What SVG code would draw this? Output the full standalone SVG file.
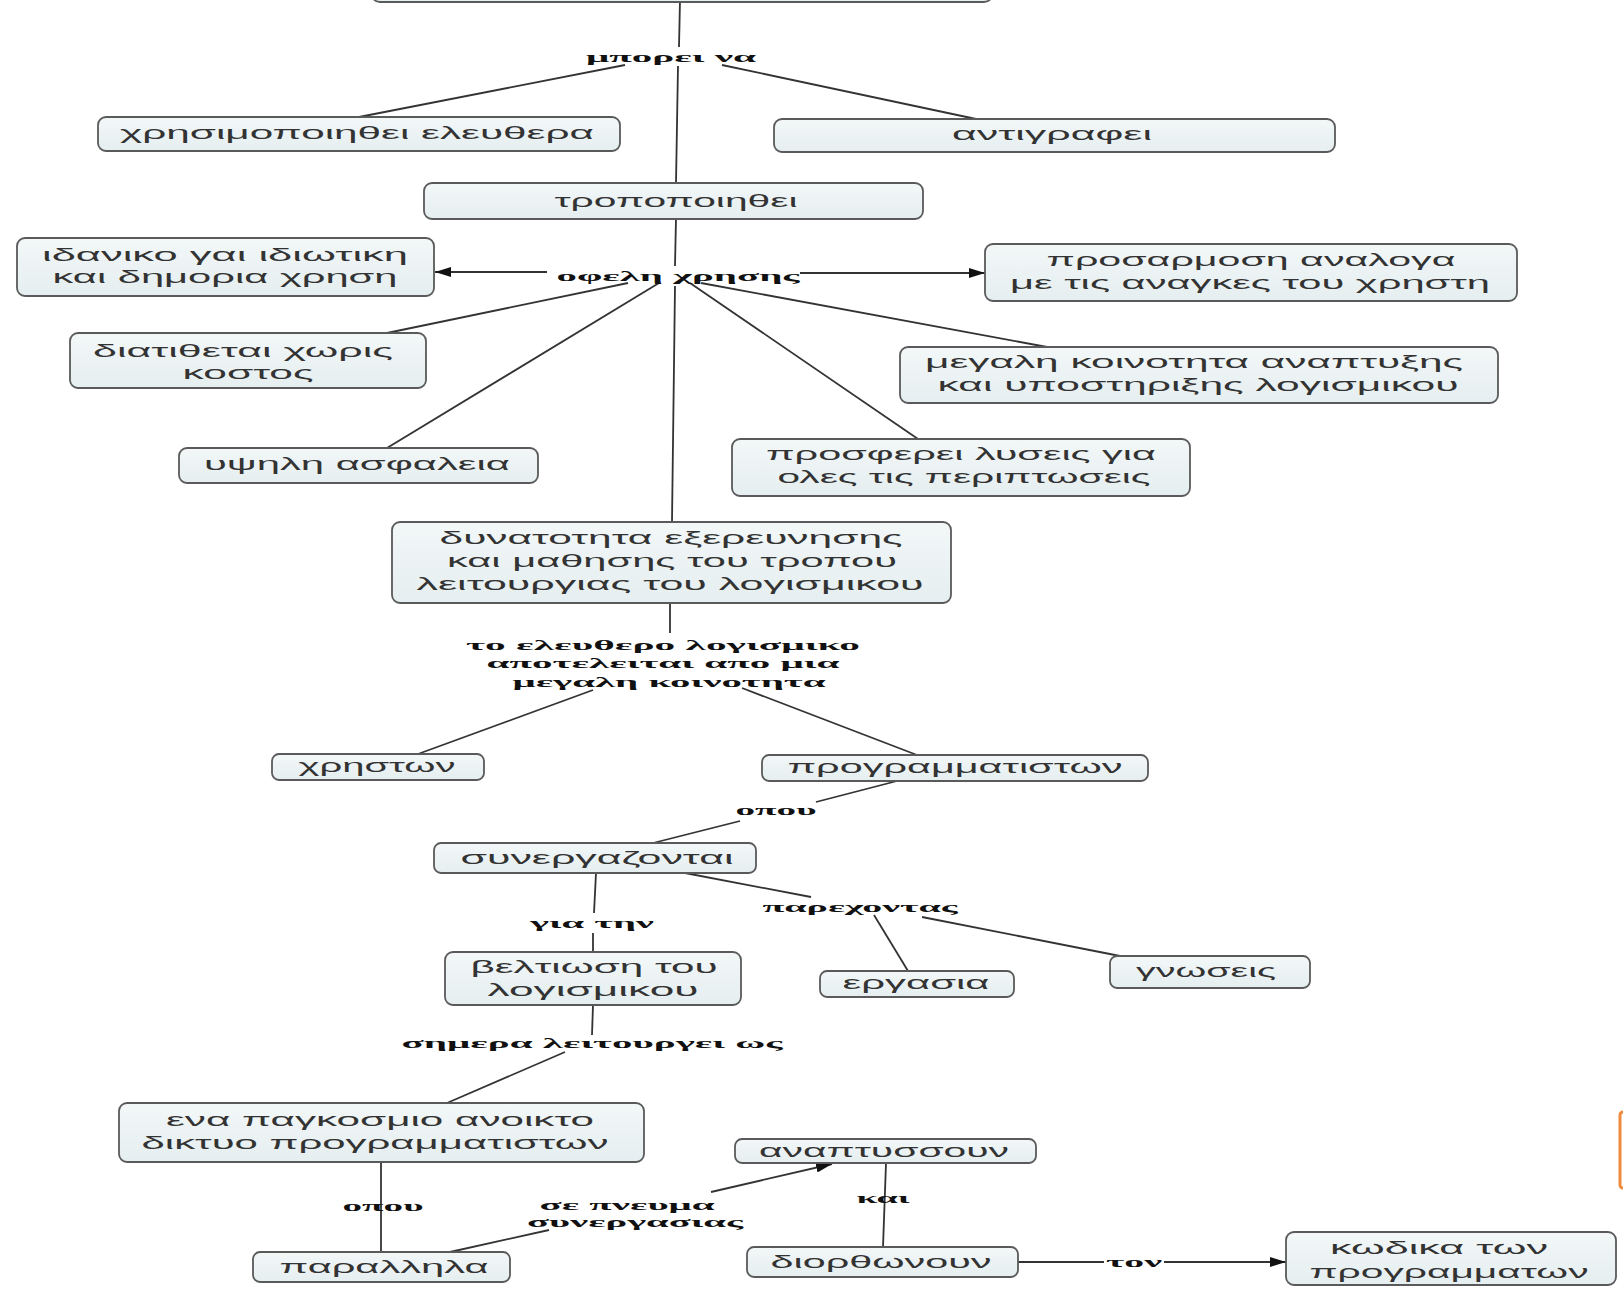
<svg xmlns="http://www.w3.org/2000/svg" width="1623" height="1290" viewBox="0 0 1623 1290">
<defs>
<linearGradient id="g" x1="0" y1="0" x2="0" y2="1">
<stop offset="0" stop-color="#f3f7f8"/>
<stop offset="1" stop-color="#e5eef0"/>
</linearGradient>
<marker id="ah" viewBox="0 0 16 10" refX="16" refY="5" markerWidth="16" markerHeight="10" markerUnits="userSpaceOnUse" orient="auto">
<path d="M0,0 L16,5 L0,10 Z" fill="#111"/>
</marker>
<style>
rect.n{fill:url(#g);stroke:#5a5a5a;stroke-width:1.8}
text.t{font-family:"Liberation Sans","Noto Sans",sans-serif;font-size:18px;fill:#333;text-anchor:middle;dominant-baseline:central}
text.l{font-family:"Liberation Serif","DejaVu Serif",serif;font-size:15px;font-weight:bold;fill:#111;text-anchor:middle;dominant-baseline:central}
#connectors line{stroke:#333;stroke-width:1.8;fill:none}
line.a{marker-end:url(#ah)}
</style>
</defs>
<rect width="1623" height="1290" fill="#ffffff"/>

<g id="connectors">
<line x1="680" y1="0" x2="679" y2="47"/>
<line x1="678" y1="66" x2="676" y2="183"/>
<line x1="676" y1="219" x2="675" y2="266"/>
<line x1="675" y1="286" x2="672" y2="522"/>
<line x1="625" y1="65" x2="359" y2="117"/>
<line x1="722" y1="65" x2="976" y2="119"/>
<line class="a" x1="547" y1="272" x2="435" y2="272"/>
<line class="a" x1="800" y1="273" x2="985" y2="273"/>
<line x1="628" y1="283" x2="387" y2="333"/>
<line x1="659" y1="283" x2="387" y2="448"/>
<line x1="701" y1="283" x2="1047" y2="347"/>
<line x1="690" y1="283" x2="918" y2="439"/>
<line x1="670" y1="603" x2="670" y2="633"/>
<line x1="593" y1="690" x2="418" y2="754"/>
<line x1="742" y1="688" x2="917" y2="755"/>
<line x1="897" y1="781" x2="816" y2="802"/>
<line x1="740" y1="821" x2="653" y2="843"/>
<line x1="596" y1="873" x2="594" y2="913"/>
<line x1="593" y1="933" x2="593" y2="952"/>
<line x1="685" y1="873" x2="811" y2="897"/>
<line x1="874" y1="915" x2="908" y2="971"/>
<line x1="922" y1="917" x2="1120" y2="956"/>
<line x1="593" y1="1005" x2="592" y2="1035"/>
<line x1="565" y1="1052" x2="447" y2="1103"/>
<line x1="381" y1="1162" x2="381" y2="1252"/>
<line x1="450" y1="1252" x2="549" y2="1230"/>
<line class="a" x1="711" y1="1192" x2="832" y2="1164"/>
<line x1="886" y1="1163" x2="883" y2="1247"/>
<line x1="1018" y1="1262" x2="1104" y2="1262"/>
<line class="a" x1="1164" y1="1262" x2="1286" y2="1262"/>
</g>

<g id="link-labels">
<text class="l" x="671" y="57" textLength="170" lengthAdjust="spacingAndGlyphs">μπορει να</text>
<text class="l" x="678" y="276" textLength="243" lengthAdjust="spacingAndGlyphs">οφελη χρησης</text>
<text class="l" x="663" y="645" textLength="394" lengthAdjust="spacingAndGlyphs">το ελευθερο λογισμικο</text>
<text class="l" x="663" y="663" textLength="353" lengthAdjust="spacingAndGlyphs">αποτελειται απο μια</text>
<text class="l" x="669" y="682" textLength="313" lengthAdjust="spacingAndGlyphs">μεγαλη κοινοτητα</text>
<text class="l" x="776" y="810" textLength="81" lengthAdjust="spacingAndGlyphs">οπου</text>
<text class="l" x="592" y="923" textLength="124" lengthAdjust="spacingAndGlyphs">για την</text>
<text class="l" x="860" y="907" textLength="195" lengthAdjust="spacingAndGlyphs">παρεχοντας</text>
<text class="l" x="592" y="1043" textLength="381" lengthAdjust="spacingAndGlyphs">σημερα λειτουργει ως</text>
<text class="l" x="383" y="1206" textLength="81" lengthAdjust="spacingAndGlyphs">οπου</text>
<text class="l" x="627" y="1205" textLength="175" lengthAdjust="spacingAndGlyphs">σε πνευμα</text>
<text class="l" x="635" y="1222" textLength="216" lengthAdjust="spacingAndGlyphs">συνεργασιας</text>
<text class="l" x="883" y="1198" textLength="53" lengthAdjust="spacingAndGlyphs">και</text>
<text class="l" x="1134" y="1262" textLength="56" lengthAdjust="spacingAndGlyphs">τον</text>
</g>

<g id="n-top"><rect class="n" x="371" y="-40" width="622" height="42" rx="9"/></g>
<g id="n-xrisimopoiithei"><rect class="n" x="98" y="117" width="522" height="34" rx="8"/><text class="t" x="357" y="133" textLength="474" lengthAdjust="spacingAndGlyphs">χρησιμοποιηθει ελευθερα</text></g>
<g id="n-antigrafei"><rect class="n" x="774" y="119" width="561" height="33" rx="8"/><text class="t" x="1052" y="134" textLength="200" lengthAdjust="spacingAndGlyphs">αντιγραφει</text></g>
<g id="n-tropopoiithei"><rect class="n" x="424" y="183" width="499" height="36" rx="8"/><text class="t" x="676" y="201" textLength="243" lengthAdjust="spacingAndGlyphs">τροποποιηθει</text></g>
<g id="n-idaniko"><rect class="n" x="17" y="238" width="417" height="58" rx="8"/><text class="t" x="225" y="255" textLength="366" lengthAdjust="spacingAndGlyphs">ιδανικο γαι ιδιωτικη</text><text class="t" x="225" y="277" textLength="345" lengthAdjust="spacingAndGlyphs">και δημορια χρηση</text></g>
<g id="n-prosarmosi"><rect class="n" x="985" y="244" width="532" height="57" rx="8"/><text class="t" x="1251" y="260" textLength="409" lengthAdjust="spacingAndGlyphs">προσαρμοση αναλογα</text><text class="t" x="1250" y="283" textLength="480" lengthAdjust="spacingAndGlyphs">με τις αναγκες του χρηστη</text></g>
<g id="n-diatithetai"><rect class="n" x="70" y="333" width="356" height="55" rx="8"/><text class="t" x="243" y="351" textLength="300" lengthAdjust="spacingAndGlyphs">διατιθεται χωρις</text><text class="t" x="248" y="373" textLength="131" lengthAdjust="spacingAndGlyphs">κοστος</text></g>
<g id="n-megali"><rect class="n" x="900" y="347" width="598" height="56" rx="8"/><text class="t" x="1194" y="362" textLength="538" lengthAdjust="spacingAndGlyphs">μεγαλη κοινοτητα αναπτυξης</text><text class="t" x="1198" y="385" textLength="521" lengthAdjust="spacingAndGlyphs">και υποστηριξης λογισμικου</text></g>
<g id="n-ypsili"><rect class="n" x="179" y="448" width="359" height="35" rx="8"/><text class="t" x="357" y="464" textLength="306" lengthAdjust="spacingAndGlyphs">υψηλη ασφαλεια</text></g>
<g id="n-prosferei"><rect class="n" x="732" y="439" width="458" height="57" rx="8"/><text class="t" x="961" y="454" textLength="390" lengthAdjust="spacingAndGlyphs">προσφερει λυσεις για</text><text class="t" x="964" y="477" textLength="373" lengthAdjust="spacingAndGlyphs">ολες τις περιπτωσεις</text></g>
<g id="n-dynatotita"><rect class="n" x="392" y="522" width="559" height="81" rx="8"/><text class="t" x="671" y="538" textLength="463" lengthAdjust="spacingAndGlyphs">δυνατοτητα εξερευνησης</text><text class="t" x="672" y="561" textLength="450" lengthAdjust="spacingAndGlyphs">και μαθησης του τροπου</text><text class="t" x="670" y="584" textLength="507" lengthAdjust="spacingAndGlyphs">λειτουργιας του λογισμικου</text></g>
<g id="n-xriston"><rect class="n" x="272" y="754" width="212" height="26" rx="7"/><text class="t" x="377" y="766" textLength="157" lengthAdjust="spacingAndGlyphs">χρηστων</text></g>
<g id="n-programmatiston"><rect class="n" x="762" y="755" width="386" height="26" rx="7"/><text class="t" x="955" y="767" textLength="335" lengthAdjust="spacingAndGlyphs">προγραμματιστων</text></g>
<g id="n-synergazontai"><rect class="n" x="434" y="843" width="322" height="30" rx="7"/><text class="t" x="597" y="858" textLength="273" lengthAdjust="spacingAndGlyphs">συνεργαζονται</text></g>
<g id="n-beltiosi"><rect class="n" x="445" y="952" width="296" height="53" rx="8"/><text class="t" x="594" y="967" textLength="247" lengthAdjust="spacingAndGlyphs">βελτιωση του</text><text class="t" x="593" y="990" textLength="211" lengthAdjust="spacingAndGlyphs">λογισμικου</text></g>
<g id="n-ergasia"><rect class="n" x="820" y="971" width="194" height="26" rx="7"/><text class="t" x="916" y="983" textLength="147" lengthAdjust="spacingAndGlyphs">εργασια</text></g>
<g id="n-gnoseis"><rect class="n" x="1110" y="956" width="200" height="32" rx="7"/><text class="t" x="1206" y="971" textLength="140" lengthAdjust="spacingAndGlyphs">γνωσεις</text></g>
<g id="n-ena"><rect class="n" x="119" y="1103" width="525" height="59" rx="8"/><text class="t" x="380" y="1120" textLength="428" lengthAdjust="spacingAndGlyphs">ενα παγκοσμιο ανοικτο</text><text class="t" x="375" y="1143" textLength="467" lengthAdjust="spacingAndGlyphs">δικτυο προγραμματιστων</text></g>
<g id="n-anaptyssoun"><rect class="n" x="735" y="1139" width="301" height="24" rx="7"/><text class="t" x="884" y="1151" textLength="250" lengthAdjust="spacingAndGlyphs">αναπτυσσουν</text></g>
<g id="n-parallila"><rect class="n" x="253" y="1252" width="257" height="30" rx="7"/><text class="t" x="384" y="1267" textLength="209" lengthAdjust="spacingAndGlyphs">παραλληλα</text></g>
<g id="n-diorthonoun"><rect class="n" x="747" y="1247" width="271" height="30" rx="7"/><text class="t" x="881" y="1262" textLength="221" lengthAdjust="spacingAndGlyphs">διορθωνουν</text></g>
<g id="n-kodika"><rect class="n" x="1286" y="1232" width="330" height="53" rx="8"/><text class="t" x="1439" y="1248" textLength="218" lengthAdjust="spacingAndGlyphs">κωδικα των</text><text class="t" x="1449" y="1272" textLength="279" lengthAdjust="spacingAndGlyphs">προγραμματων</text></g>

<rect x="1620" y="1112" width="8" height="76" rx="3" fill="none" stroke="#f08a3c" stroke-width="3"/>
</svg>
